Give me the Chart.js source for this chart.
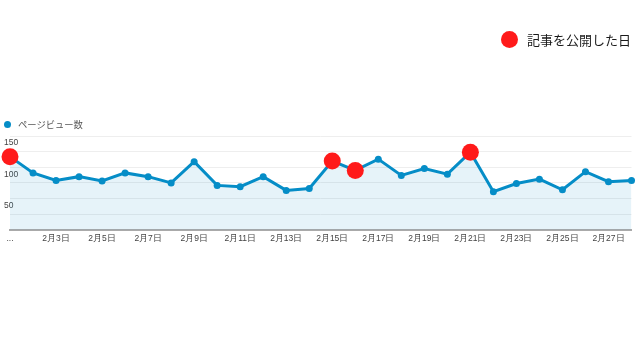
<!DOCTYPE html>
<html lang="ja">
<head>
    <meta charset="UTF-8">
    <title>ページビュー数</title>
    <script src="https://cdn.jsdelivr.net/npm/chart.js"></script>
    <style>
        body {
            margin: 0;
            width: 640px;
            height: 360px;
            background: #fff;
            position: relative;
            overflow: hidden;
            font-family: "Noto Sans CJK JP", "Liberation Sans", sans-serif;
        }
        .wrap {
            position: absolute;
            left: 0;
            top: 0;
            width: 640px;
            height: 360px;
        }
        .legend {
            position: absolute;
            display: flex;
            align-items: center;
            white-space: nowrap;
        }
        .legend .dot {
            border-radius: 50%;
            display: inline-block;
        }
        .legend.pv {
            left: 4px;
            top: 117px;
            font-size: 9.3px;
            color: #555;
        }
        .legend.pv .dot {
            width: 7px;
            height: 7px;
            background: #058dc7;
            margin-right: 7px;
        }
        .legend.post {
            left: 501px;
            top: 30px;
            font-size: 13px;
            color: #1a1a1a;
        }
        .legend.post .dot {
            width: 17px;
            height: 17px;
            background: #ff1a1a;
            margin-right: 9px;
        }
    </style>
</head>
<body>
    <div class="wrap"><canvas id="pvChart"></canvas></div>
    <div class="legend post"><span class="dot"></span>記事を公開した日</div>
    <div class="legend pv"><span class="dot"></span>ページビュー数</div>
    <script>
        const days = [];
        for (let d = 1; d <= 28; d++) days.push('2月' + d + '日');

        const pageViews = [117, 91, 79, 85, 78, 91, 85, 75, 109, 71,
                           69, 85, 63, 66, 110, 95, 113, 87, 98, 89,
                           124, 61, 74, 81, 64, 93, 77, 79];

        // days an article went up
        const postDays = ['2月1日', '2月15日', '2月16日', '2月21日'];
        const postMarks = days.map((d, i) => postDays.includes(d) ? pageViews[i] : null);

        const ctx = document.getElementById('pvChart').getContext('2d');
        const pvChart = new Chart(ctx, {
            type: 'line',
            data: {
                labels: days,
                datasets: [{
                    label: '記事を公開した日',
                    data: postMarks,
                    showLine: false,
                    pointRadius: 8.5,
                    pointBackgroundColor: '#ff1a1a',
                    pointBorderWidth: 0,
                    clip: false
                }, {
                    label: 'ページビュー数',
                    data: pageViews,
                    borderColor: '#058dc7',
                    borderWidth: 3,
                    tension: 0,
                    pointRadius: 3.5,
                    pointBackgroundColor: '#058dc7',
                    pointBorderWidth: 0,
                    fill: true,
                    backgroundColor: 'rgba(5, 141, 199, 0.1)'
                }]
            },
            options: {
                responsive: true,
                maintainAspectRatio: false,
                animation: false,
                layout: {
                    padding: { left: 10, right: 8, top: 136, bottom: 112 }
                },
                plugins: {
                    legend: { display: false },
                    tooltip: { enabled: false }
                },
                scales: {
                    x: {
                        offset: false,
                        grid: { display: false, drawTicks: false },
                        border: { color: '#aaa', width: 2 },
                        ticks: {
                            autoSkip: false,
                            maxRotation: 0,
                            padding: 4,
                            color: '#444',
                            font: { size: 8.5, family: 'Liberation Sans' },
                            callback: function (v, i) {
                                if (i === 0) return '...';
                                return (i % 2 === 0) ? this.getLabelForValue(v) : '';
                            }
                        }
                    },
                    y: {
                        min: 0,
                        max: 150,
                        afterFit: s => { s.width = 0; },
                        border: { display: false },
                        grid: { color: '#eeeeee', drawTicks: false },
                        ticks: {
                            stepSize: 25,
                            mirror: true,
                            padding: -6,
                            labelOffset: 7,
                            color: '#444',
                            font: { size: 8.5, family: 'Liberation Sans' },
                            callback: v => (v > 0 && v % 50 === 0) ? v : ''
                        }
                    }
                }
            }
        });
    </script>
</body>
</html>
